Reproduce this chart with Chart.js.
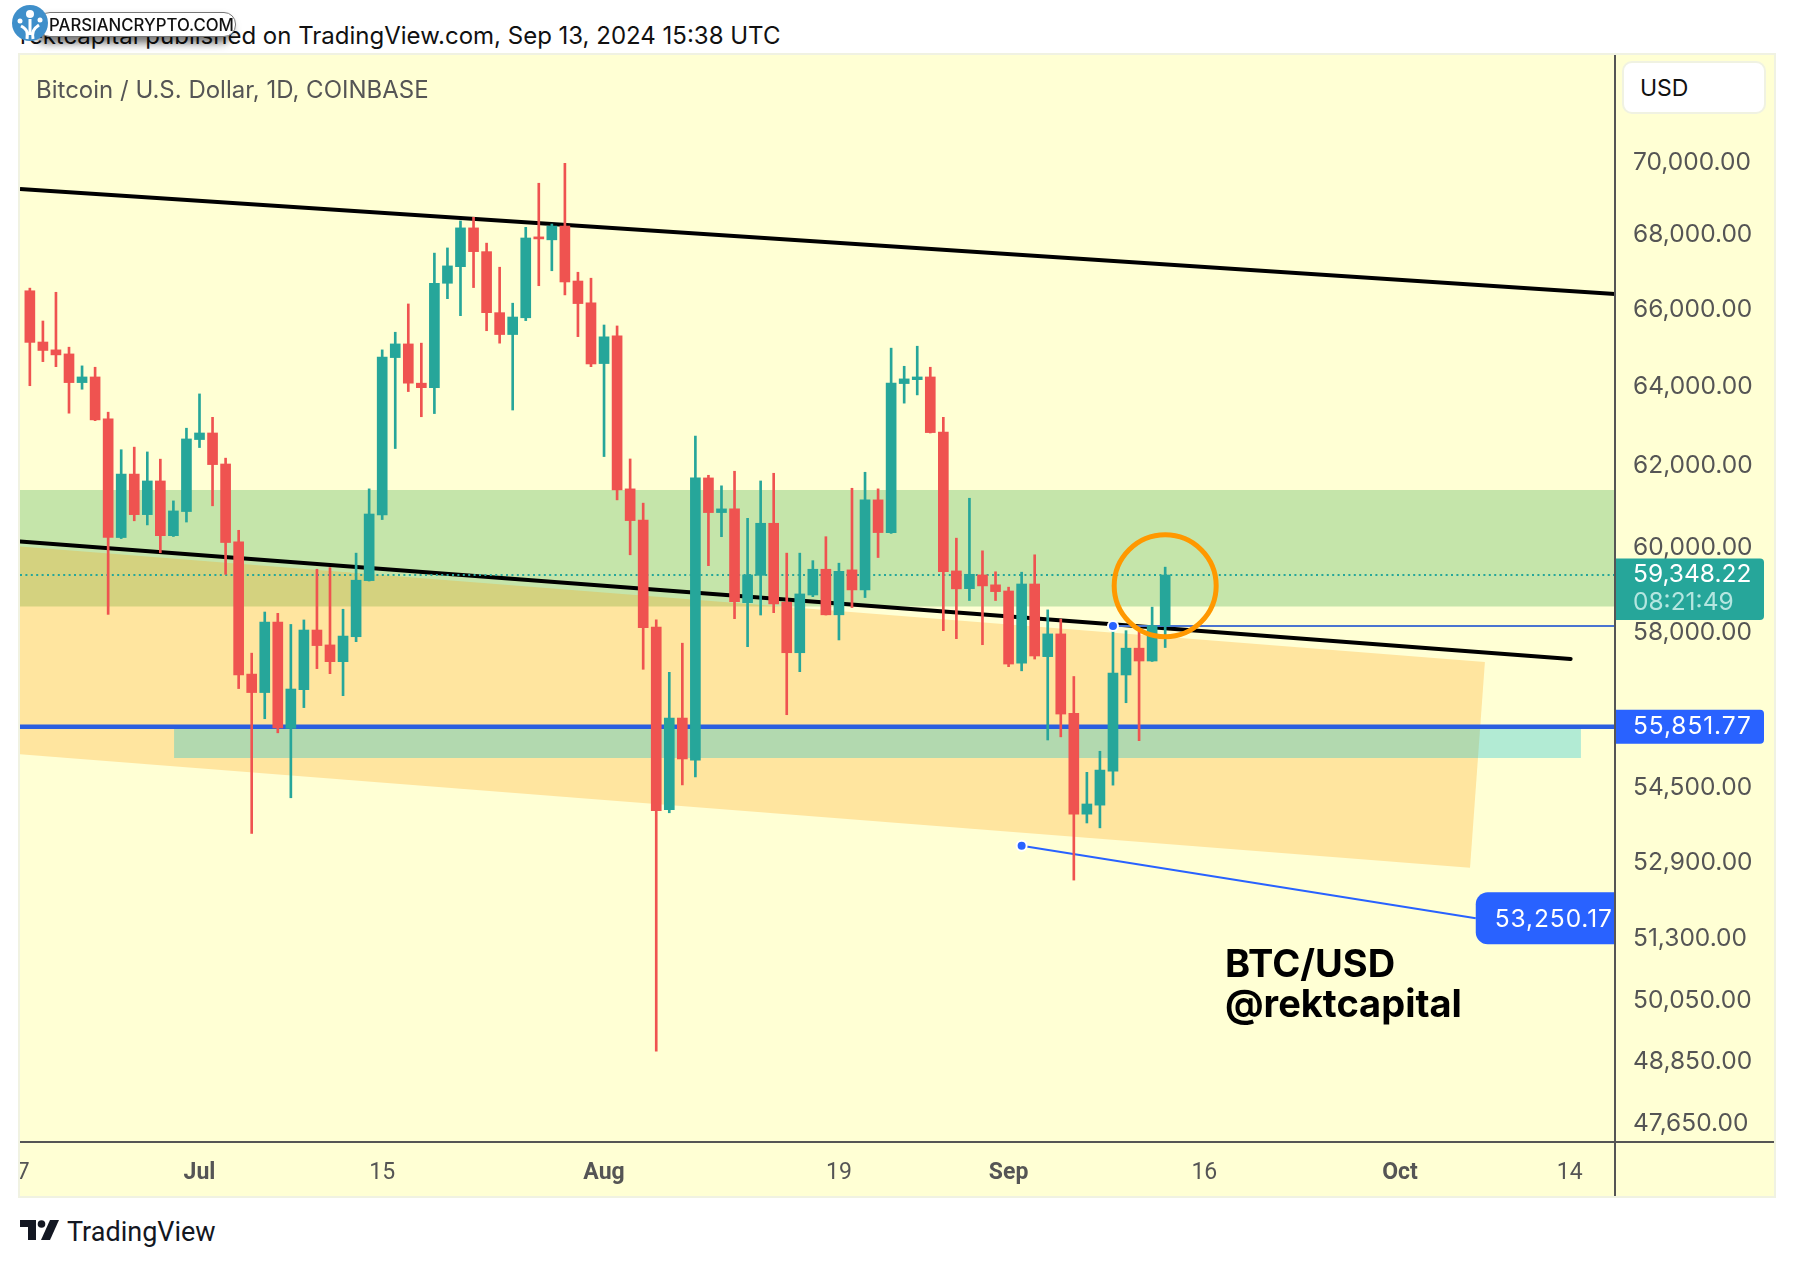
<!DOCTYPE html>
<html>
<head>
<meta charset="utf-8">
<title>BTC/USD</title>
<script src="https://cdn.jsdelivr.net/npm/chart.js@4"></script>
<style>
    html, body { margin: 0; padding: 0; background: #fff; width: 1794px; height: 1266px; overflow: hidden; }
    .abs { position: absolute; white-space: nowrap; font-family: Inter, sans-serif; }
    #published { left: 20px; top: 22px; font-size: 24px; line-height: 28px; color: #111; }
    #panel { position: absolute; left: 20px; top: 55px; width: 1754px; height: 1141px; background: #ffffd4; box-shadow: 0 0 0 2px #f0f2e2; }
    #symbol { left: 36px; top: 76px; font-size: 24px; line-height: 28px; color: #555; }
    #usd { left: 1622px; top: 61px; width: 144px; height: 53px; box-sizing: border-box; padding-left: 16px; background: #fff; border: 2px solid #f0f2e2; border-radius: 10px; font-size: 23px; line-height: 50px; color: #111; }
    #tag { left: 1225px; top: 943px; font-size: 38px; line-height: 40px; font-weight: 700; color: #000; }
    #pill { left: 38px; top: 12px; width: 198px; height: 25px; box-sizing: border-box; padding-left: 10px; background: #fff; border: 1px solid #777; border-radius: 12px; box-shadow: -4px 6px 9px rgba(0,0,0,.55); font-size: 16.8px; line-height: 24px; font-weight: 500; color: #111; }
    #badge { position: absolute; left: 12px; top: 5px; }
    #tvlogo { position: absolute; left: 20px; top: 1220px; }
    #tvname { left: 67px; top: 1216px; font-family: Roboto, sans-serif; font-size: 27px; line-height: 32px; color: #131722; }
</style>
</head>
<body>
<div id="published" class="abs">rektcapital published on TradingView.com, Sep 13, 2024 15:38 UTC</div>
<div id="panel"><canvas id="chart" width="1754" height="1141"></canvas></div>
<div id="symbol" class="abs">Bitcoin / U.S. Dollar, 1D, COINBASE</div>
<div id="usd" class="abs">USD</div>
<div id="tag" class="abs">BTC/USD<br>@rektcapital</div>
<div id="pill" class="abs">PARSIANCRYPTO.COM</div>
<svg id="badge" width="36" height="36" viewBox="0 0 36 36">
    <circle cx="18" cy="18" r="18" fill="#3f8fca"/>
    <path d="M15 34 C16 27 15 24 9 21 M21 34 C20 27 21 24 27 20 M18 30 L18 14" stroke="#fff" stroke-width="3" fill="none"/>
    <circle cx="18" cy="9" r="4" fill="#fff"/><circle cx="8" cy="16" r="2.5" fill="#fff"/><circle cx="28" cy="15" r="2.5" fill="#fff"/>
</svg>
<svg id="tvlogo" width="40" height="20" viewBox="0 0 40 20">
    <path d="M0 0H16V20H8V7H0Z" fill="#131722"/>
    <circle cx="21.5" cy="4" r="3.8" fill="#131722"/>
    <path d="M30 0H39L30 20H21Z" fill="#131722"/>
</svg>
<div id="tvname" class="abs">TradingView</div>

<script>
// daily candles, index 0 = Jun 18 2024, [open, high, low, close]
const candles = [
    [66500, 66570, 64020, 65140], [65150, 65700, 64640, 64930], [64945, 66460, 64510, 64815], [64840, 65015, 63320, 64100],
    [64100, 64530, 63930, 64245], [64245, 64495, 63130, 63150], [63175, 63345, 58420, 60245], [60245, 62400, 60220, 61795],
    [61795, 62465, 60650, 60800], [60800, 62345, 60550, 61625], [61625, 62165, 59880, 60290], [60290, 61135, 60270, 60890],
    [60875, 62940, 60620, 62670], [62655, 63810, 62455, 62820], [62820, 63215, 61015, 62030], [62045, 62190, 59365, 60125],
    [60140, 60420, 56710, 57020], [57040, 57520, 53515, 56620], [56620, 58475, 56030, 58240], [58240, 58445, 55715, 55825],
    [55815, 58185, 54285, 56700], [56685, 58290, 56280, 58055], [58055, 59485, 57165, 57695], [57710, 59525, 57050, 57325],
    [57325, 58540, 56550, 57915], [57900, 59870, 57785, 59225], [59215, 61430, 59205, 60815], [60795, 64945, 60680, 64755],
    [64745, 65405, 62430, 65100], [65100, 66150, 63870, 64085], [64085, 65120, 63230, 63970], [63970, 67510, 63310, 66700],
    [66700, 67650, 66290, 67165], [67145, 68385, 65840, 68195], [68195, 68485, 66585, 67550], [67550, 67780, 65445, 65920],
    [65920, 67130, 65120, 65345], [65345, 66170, 63400, 65805], [65785, 68210, 65710, 67920], [67950, 69425, 66635, 67895],
    [67870, 68300, 67035, 68245], [68245, 69980, 66390, 66735], [66760, 66995, 65290, 66160], [66180, 66835, 64510, 64580],
    [64590, 65595, 62230, 65285], [65310, 65570, 61160, 61405], [61430, 62170, 59830, 60655], [60670, 61080, 57150, 58110],
    [58125, 58290, 49050, 54005], [54025, 57080, 53960, 56045], [56045, 57750, 54565, 55135], [55110, 62745, 54740, 61700],
    [61700, 61765, 59570, 60850], [60850, 61505, 60265, 60940], [60940, 61865, 58320, 58720], [58695, 60710, 57670, 59350],
    [59340, 61625, 58405, 60590], [60590, 61815, 58460, 58665], [58705, 59870, 56120, 57530], [57530, 59870, 57095, 58900],
    [58875, 59690, 58835, 59485], [59485, 60265, 58405, 58410], [58410, 59630, 57825, 59435], [59470, 61445, 58580, 58995],
    [58995, 61840, 58815, 61160], [61160, 61430, 59765, 60365], [60365, 64990, 60345, 64085], [64075, 64520, 63575, 64195],
    [64175, 65040, 63785, 64245], [64245, 64495, 62820, 62830], [62840, 63215, 58040, 59425], [59445, 60230, 57855, 59020],
    [59025, 61200, 58745, 59365], [59350, 59925, 57715, 59090], [59115, 59425, 58745, 58955], [58970, 59060, 57210, 57270],
    [57290, 59415, 57115, 59135], [59135, 59830, 57385, 57455], [57440, 58525, 55555, 57965], [57965, 58310, 55625, 56135],
    [56150, 56985, 52525, 53930], [53930, 54840, 53740, 54150], [54125, 55305, 53635, 54890], [54865, 58095, 54560, 57065],
    [57020, 58040, 56390, 57635], [57635, 58015, 55540, 57340], [57340, 58590, 57330, 58155], [58150, 59535, 57650, 59348.22]
];

const UP = "#26a69a";
const DOWN = "#ef5350";
const BLUE = "#2962ff";

const lastPrice = 59348.22;
const supportPrice = 55851.77;
const X_MIN = -0.755;
const X_MAX = 121.47;

const priceTicks = [70000, 68000, 66000, 64000, 62000, 60000, 58000, 54500, 52900, 51300, 50050, 48850, 47650];
const dateTicks = { "-1": "17", 13: "Jul", 27: "15", 44: "Aug", 62: "19", 75: "Sep", 90: "16", 105: "Oct", 118: "14" };
const boldTicks = [13, 44, 75, 105];

const line = (data, color, width, order, extra) => ({
    type: "line", data, borderColor: color, borderWidth: width, pointRadius: 0, order, ...extra
});
const zone = (data, color, order) => ({
    type: "line", data, borderWidth: 0, backgroundColor: color, fill: "shape", pointRadius: 0, order
});

const datasets = [
    zone([{ x: X_MIN, y: 61405 }, { x: X_MAX, y: 61405 }, { x: X_MAX, y: 58602 }, { x: X_MIN, y: 58602 }], "rgba(76,175,80,0.32)", 100),
    zone([{ x: X_MIN, y: 60027 }, { x: 111.5, y: 57318 }, { x: 110.36, y: 52787 }, { x: X_MIN, y: 55237 }], "rgba(255,152,0,0.25)", 90),
    zone([{ x: 11.05, y: 55810 }, { x: 118.86, y: 55810 }, { x: 118.86, y: 55155 }, { x: 11.05, y: 55155 }], "rgba(0,188,212,0.3)", 80),
    line([{ x: X_MIN, y: 69268 }, { x: X_MAX, y: 66417 }], "#000", 4, 70),
    line([{ x: X_MIN, y: 60147 }, { x: 118.07, y: 57387 }], "#000", 4, 70, { borderCapStyle: "round" }),
    line([{ x: X_MIN, y: supportPrice }, { x: X_MAX, y: supportPrice }], "#2b5fdf", 4.5, 60),
    line([{ x: 83, y: 58150 }, { x: X_MAX, y: 58150 }], "#4a74d0", 2, 50),
    line([{ x: 76, y: 53250.17 }, { x: 110.8, y: 51729 }], BLUE, 2, 50),
    line([{ x: X_MIN, y: lastPrice }, { x: X_MAX, y: lastPrice }], UP, 2, 40, { borderDash: [2, 3.4] }),
    {
        type: "bar", order: 30, grouped: false, barThickness: 2,
        data: candles.map((c, i) => ({ x: i, y: [c[2], c[1]] })),
        backgroundColor: candles.map((c) => (c[3] >= c[0] ? UP : DOWN))
    },
    {
        type: "bar", order: 20, grouped: false, barThickness: 10, minBarLength: 2,
        data: candles.map((c, i) => ({ x: i, y: [c[0], c[3]] })),
        backgroundColor: candles.map((c) => (c[3] >= c[0] ? UP : DOWN))
    },
    {
        type: "line", order: 10, showLine: false,
        data: [{ x: 83, y: 58150 }, { x: 76, y: 53250.17 }],
        pointRadius: 5, pointBackgroundColor: BLUE, pointBorderColor: "#fff", pointBorderWidth: 2
    },
    {
        type: "line", order: 5, showLine: false,
        data: [{ x: 87, y: 59094 }],
        pointRadius: 51, pointBackgroundColor: "transparent", pointBorderColor: "#ff9800", pointBorderWidth: 5
    }
];

const formatPrice = (v) => v.toLocaleString("en-US", { minimumFractionDigits: 2, maximumFractionDigits: 2 });

// axis rules and the price tags sitting on them
const axisFurniture = {
    id: "axisFurniture",
    afterDraw(chart) {
        const { ctx, chartArea, scales, width, height } = chart;
        const right = chartArea.right;

        const tag = (x0, x1, y0, y1, radii, color) => {
            ctx.fillStyle = color;
            ctx.beginPath();
            ctx.roundRect(x0, y0, x1 - x0, y1 - y0, radii);
            ctx.fill();
        };
        const text = (str, x, y, color) => {
            ctx.fillStyle = color;
            ctx.fillText(str, x, y);
        };

        ctx.save();
        ctx.font = "24.5px Inter";
        ctx.textAlign = "left";
        ctx.textBaseline = "middle";

        const lastY = scales.y.getPixelForValue(lastPrice);
        tag(right + 1, width - 10, lastY - 16.5, lastY + 45, [0, 4, 4, 0], UP);
        text(formatPrice(lastPrice), right + 18, lastY, "#fff");
        text("08:21:49", right + 18, lastY + 28, "#b5e6e0");

        // the reference prints digits at a fixed width, Inter's 1 is narrower
        ctx.letterSpacing = "0.9px";
        const supportY = scales.y.getPixelForValue(supportPrice);
        tag(right + 1, width - 10, supportY - 17, supportY + 17, [0, 4, 4, 0], BLUE);
        text(formatPrice(supportPrice), right + 18, supportY, "#fff");

        const noteX = scales.x.getPixelForValue(110.8);
        const noteY = scales.y.getPixelForValue(51729);
        tag(noteX, right, noteY - 26, noteY + 26, [12, 0, 0, 12], BLUE);
        text("53,250.17", noteX + 19, noteY + 1, "#fff");
        ctx.letterSpacing = "0px";

        ctx.strokeStyle = "#555";
        ctx.lineWidth = 2;
        ctx.beginPath();
        ctx.moveTo(right, 0);
        ctx.lineTo(right, height);
        ctx.moveTo(0, chartArea.bottom);
        ctx.lineTo(width, chartArea.bottom);
        ctx.stroke();
        ctx.restore();
    }
};

new Chart(document.getElementById("chart"), {
    type: "bar",
    data: { datasets },
    plugins: [axisFurniture],
    options: {
        responsive: false,
        animation: false,
        events: [],
        layout: { padding: 0, autoPadding: false },
        plugins: { legend: { display: false }, tooltip: { enabled: false } },
        scales: {
            x: {
                type: "linear",
                offset: false,
                min: X_MIN,
                max: X_MAX,
                grid: { display: false, drawTicks: false },
                border: { display: false },
                afterBuildTicks: (scale) => {
                    scale.ticks = Object.keys(dateTicks).map((k) => ({ value: Number(k) }));
                },
                afterFit: (scale) => {
                    scale.height = 54;
                    scale.paddingLeft = 0;
                    scale.paddingRight = 0;
                },
                ticks: {
                    autoSkip: false,
                    maxRotation: 0,
                    padding: 17,
                    color: "#555",
                    callback: (v) => dateTicks[v],
                    font: (c) => ({
                        family: "Roboto",
                        size: 23,
                        weight: c.tick && boldTicks.includes(c.tick.value) ? "bold" : "normal"
                    })
                }
            },
            y: {
                type: "logarithmic",
                position: "right",
                min: 47297,
                max: 73082,
                grid: { display: false, drawTicks: false },
                border: { display: false },
                afterBuildTicks: (scale) => {
                    scale.ticks = priceTicks.map((value) => ({ value }));
                },
                afterFit: (scale) => {
                    scale.width = 159;
                    scale.paddingTop = 0;
                    scale.paddingBottom = 0;
                },
                ticks: {
                    autoSkip: false,
                    padding: 18,
                    color: "#555",
                    font: { family: "Inter", size: 24.5 },
                    callback: (v) => formatPrice(v)
                }
            }
        }
    }
});
</script>
</body>
</html>
